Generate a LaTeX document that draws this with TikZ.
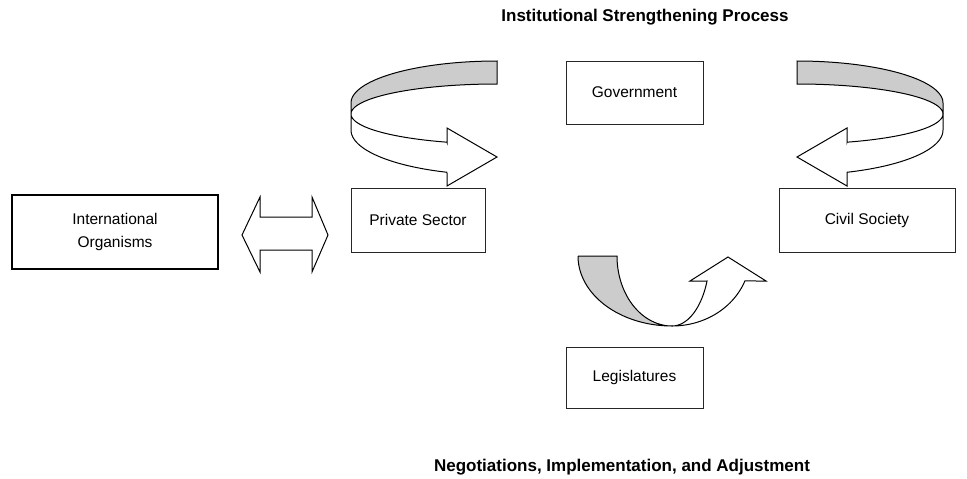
\documentclass[tikz,border=0pt]{standalone}
\usepackage{fontspec}
\setmainfont{Liberation Sans}
\begin{document}
\begin{tikzpicture}[x=1pt,y=-1pt,
  box/.style={draw=black!85, line width=0.8pt, rectangle, inner sep=0pt, align=center,
    font=\fontsize{15.5}{23}\selectfont},
  heading/.style={font=\bfseries\fontsize{17}{20}\selectfont},
  ribbon/.style={draw=black, line width=1pt, line join=miter},
  back/.style={ribbon, fill=black!20},
  front/.style={ribbon, fill=white}]
\useasboundingbox (0,0) rectangle (967,479);

% headings
\node[heading] (top) at (645,17) {Institutional Strengthening Process};
\node[heading] (bottom) at (622,467) {Negotiations, Implementation, and Adjustment};

% actors
\node[box, minimum width=137pt, minimum height=63pt] (gov) at (634.5,92.5) {Government};
\node[box, minimum width=134pt, minimum height=64pt] (priv) at (418,220) {Private Sector};
\node[box, minimum width=176pt, minimum height=64pt] (civ) at (867,220) {Civil Society};
\node[box, draw=black, line width=1.3pt, minimum width=206pt, minimum height=74pt] (intl) at (115,232) {International\\Organisms};
\node[box, minimum width=137pt, minimum height=61pt] (leg) at (634.5,377.5) {Legislatures};

% two-way exchange between international organisms and private sector
\draw[front] (242,235) -- (260,197) -- (260,217) -- (312,217) -- (312,197) -- (328,235)
  -- (312,272) -- (312,250) -- (260,250) -- (260,272) -- cycle;

% curved arrow turning right, above Private Sector
\draw[back] plot[domain=270:180, samples=40, variable=\t] ({497+146*cos(\t)},{103+42*sin(\t)})
  -- (351,114)
  -- plot[domain=180:270, samples=40, variable=\t] ({497+146*cos(\t)},{114+30*sin(\t)}) -- cycle;
\draw[front] (351,114) -- (351,130)
  -- plot[domain=180:110.03, samples=40, variable=\t] ({497+146*cos(\t)},{130+45*sin(\t)})
  -- (447,186) -- (497,157) -- (447,128) -- (447,142.2)
  -- plot[domain=110.03:180, samples=40, variable=\t] ({497+146*cos(\t)},{114+30*sin(\t)}) -- cycle;

% curved arrow turning left, above Civil Society
\draw[back] plot[domain=270:180, samples=40, variable=\t] ({797-146*cos(\t)},{103+42*sin(\t)})
  -- (943,114)
  -- plot[domain=180:270, samples=40, variable=\t] ({797-146*cos(\t)},{114+30*sin(\t)}) -- cycle;
\draw[front] (943,114) -- (943,130)
  -- plot[domain=180:110.03, samples=40, variable=\t] ({797-146*cos(\t)},{130+45*sin(\t)})
  -- (847,186) -- (797,157) -- (847,128) -- (847,142.2)
  -- plot[domain=110.03:180, samples=40, variable=\t] ({797-146*cos(\t)},{114+30*sin(\t)}) -- cycle;

% curved arrow turning up, above Legislatures
\draw[back] (578,256) -- (617,256)
  -- plot[domain=180:90, samples=40, variable=\t] ({672+55*cos(\t)},{256+70*sin(\t)})
  -- plot[domain=90:180, samples=40, variable=\t] ({672+94*cos(\t)},{256+70*sin(\t)}) -- cycle;
\draw[front] (672,326)
  -- plot[domain=90:20.92, samples=40, variable=\t] ({672+78*cos(\t)},{256+70*sin(\t)})
  -- (766,281) -- (728,257) -- (690,281) -- (707,281)
  -- plot[domain=20.92:90, samples=40, variable=\t] ({672+37.5*cos(\t)},{256+70*sin(\t)}) -- cycle;
\end{tikzpicture}
\end{document}
